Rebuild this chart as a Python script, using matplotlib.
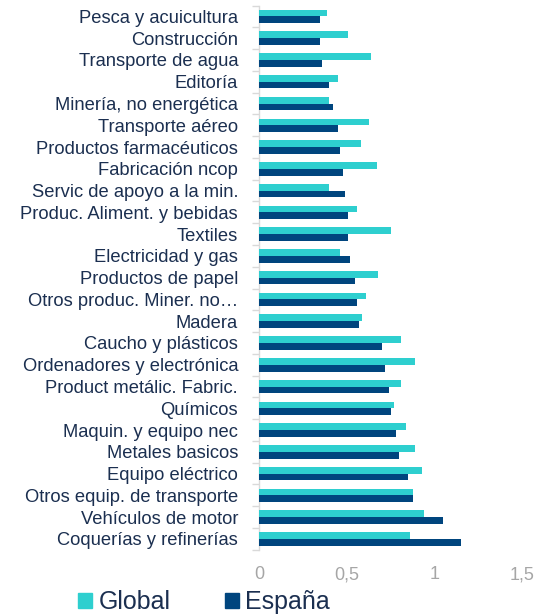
import matplotlib

matplotlib.use("Agg")
import matplotlib.pyplot as plt
import numpy as np
from matplotlib.patches import Patch
from matplotlib.ticker import FixedLocator, FuncFormatter, NullLocator

GLOBAL_CYAN = "#2ECFCF"
ESPANA_NAVY = "#00457E"
LABEL_NAVY = "#1B2F50"
TICK_GREY = "#A6A6A6"
AXIS_GREY = "#D9D9D9"

plt.rcParams["font.family"] = ["Liberation Sans", "DejaVu Sans"]

# top-to-bottom order as shown in the chart
sectors = [
    "Pesca y acuicultura", "Construcción", "Transporte de agua", "Editoría",
    "Minería, no energética", "Transporte aéreo", "Productos farmacéuticos",
    "Fabricación ncop", "Servic de apoyo a la min.", "Produc. Aliment. y bebidas",
    "Textiles", "Electricidad y gas", "Productos de papel",
    "Otros produc. Miner. no\u2026", "Madera", "Caucho y plásticos",
    "Ordenadores y electrónica", "Product metálic. Fabric.", "Químicos",
    "Maquin. y equipo nec", "Metales basicos", "Equipo eléctrico",
    "Otros equip. de transporte", "Vehículos de motor", "Coquerías y refinerías",
]
global_vals = [
    0.39, 0.51, 0.64, 0.45, 0.40, 0.63, 0.58, 0.67, 0.40, 0.56,
    0.75, 0.46, 0.68, 0.61, 0.59, 0.81, 0.89, 0.81, 0.77, 0.84,
    0.89, 0.93, 0.88, 0.94, 0.86,
]
espana_vals = [
    0.35, 0.35, 0.36, 0.40, 0.42, 0.45, 0.46, 0.48, 0.49, 0.51,
    0.51, 0.52, 0.55, 0.56, 0.57, 0.70, 0.72, 0.74, 0.75, 0.78,
    0.80, 0.85, 0.88, 1.05, 1.15,
]
x_ticks = [0, 0.5, 1, 1.5]

fig = plt.figure(figsize=(5.35, 6.15), dpi=100)
ax = fig.add_axes([0.484, 0.106, 0.492, 0.885])

n = len(sectors)
y = np.arange(n)
h = 0.31
ax.barh(y - h / 2, global_vals, h, color=GLOBAL_CYAN, edgecolor="none", zorder=3)
ax.barh(y + h / 2, espana_vals, h, color=ESPANA_NAVY, edgecolor="none", zorder=3)

ax.set_ylim(n - 0.5, -0.5)
ax.set_xlim(0, 1.5)

ax.set_yticks(y)
ax.set_yticklabels(sectors, fontsize=13.2, color=LABEL_NAVY)
ax.yaxis.set_minor_locator(FixedLocator(np.arange(n + 1) - 0.5))
ax.tick_params(axis="y", which="major", length=0, pad=15)
ax.tick_params(axis="y", which="minor", length=5, color=AXIS_GREY, width=1)

ax.xaxis.set_major_locator(FixedLocator(x_ticks))
ax.xaxis.set_minor_locator(NullLocator())
ax.xaxis.set_major_formatter(
    FuncFormatter(lambda v, _: f"{v:g}".replace(".", ","))
)
ax.tick_params(axis="x", length=0, pad=12, labelsize=13, labelcolor=TICK_GREY)

for side in ("top", "right", "bottom"):
    ax.spines[side].set_visible(False)
ax.spines["left"].set_color(AXIS_GREY)
ax.spines["left"].set_linewidth(1)

handles = [Patch(color=GLOBAL_CYAN, label="Global"),
           Patch(color=ESPANA_NAVY, label="España")]
fig.legend(
    handles=handles, loc="center left", bbox_to_anchor=(0.123, 0.021),
    ncol=2, frameon=False, fontsize=18, labelcolor=LABEL_NAVY, borderpad=0,
    handlelength=0.55, handleheight=0.55, handletextpad=0.25, columnspacing=2.2,
)

fig.savefig("out.png", dpi=100)
